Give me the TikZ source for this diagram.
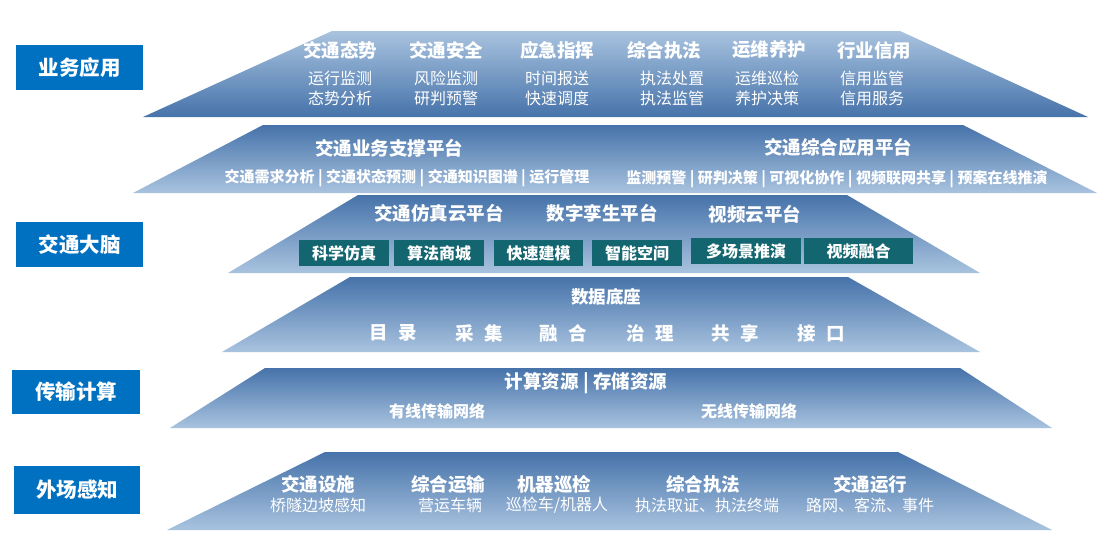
\documentclass[tikz,border=0pt]{standalone}
\usepackage{fontspec}
\setmainfont{Noto Sans CJK SC}
\definecolor{lblue}{HTML}{0070C0}
\definecolor{dkb}{HTML}{4673AA}
\definecolor{ltb}{HTML}{A9C3DF}
\definecolor{tealbox}{HTML}{13656F}
\begin{document}
\begin{tikzpicture}[x=1pt,y=-1pt,
  upL/.style={top color=ltb,bottom color=dkb},
  dnL/.style={top color=dkb,bottom color=ltb},
  tit/.style={text=white,inner sep=0pt,font=\fontsize{18.5}{18.5}\selectfont\bfseries},
  sub/.style={text=white,inner sep=0pt,font=\fontsize{16}{16}\selectfont},
  subb/.style={text=white,inner sep=0pt,font=\fontsize{15}{15}\selectfont\bfseries},
  sideb/.style={fill=lblue,text=white,inner sep=0pt,minimum width=127pt,minimum height=45pt,font=\fontsize{20.5}{20.5}\selectfont\bfseries},
  tbox/.style={fill=tealbox,text=white,inner sep=0pt,minimum height=26pt,font=\fontsize{16}{16}\selectfont\bfseries}]
\useasboundingbox (0,0) rectangle (1113,546);
\fill[white] (0,0) rectangle (1113,546);
% layers
\shade[upL] (332,31) -- (900,31) -- (1088,117) -- (143,117) -- cycle;
\shade[dnL] (263,125) -- (963,125) -- (1097,193) -- (133,193) -- cycle;
\shade[dnL] (358,195) -- (847,195) -- (980,273) -- (228,273) -- cycle;
\shade[dnL] (350,277) -- (848,277) -- (980,352) -- (222,352) -- cycle;
\shade[dnL] (265,368) -- (960,368) -- (1052,428) -- (170,428) -- cycle;
\shade[dnL] (325,452) -- (898,452) -- (1052,530) -- (167,530) -- cycle;
% side labels
\node[sideb] (s1) at (79.5,67.5) {业务应用};
\node[sideb] (s2) at (79.5,244.5) {交通大脑};
\node[sideb,minimum width=128pt,minimum height=44pt] (s3) at (76,392) {传输计算};
\node[sideb,minimum width=126pt,minimum height=48pt] (s4) at (77,490) {外场感知};
% layer 1
\node[tit] (a1) at (340,50) {交通态势};
\node[sub] (a1a) at (340,78) {运行监测};
\node[sub] (a1b) at (340,98) {态势分析};
\node[tit] (a2) at (446,50) {交通安全};
\node[sub] (a2a) at (446,78) {风险监测};
\node[sub] (a2b) at (446,98) {研判预警};
\node[tit] (a3) at (557,50) {应急指挥};
\node[sub] (a3a) at (557,78) {时间报送};
\node[sub] (a3b) at (557,98) {快速调度};
\node[tit] (a4) at (664,50) {综合执法};
\node[sub] (a4a) at (672,78) {执法处置};
\node[sub] (a4b) at (672,98) {执法监管};
\node[tit] (a5) at (769,50) {运维养护};
\node[sub] (a5a) at (767,78) {运维巡检};
\node[sub] (a5b) at (767,98) {养护决策};
\node[tit] (a6) at (874,50) {行业信用};
\node[sub] (a6a) at (872,78) {信用监管};
\node[sub] (a6b) at (872,98) {信用服务};
% layer 2
\node[tit] (b1) at (389,148) {交通业务支撑平台};
\node[subb] (b1a) at (407,178) {交通需求分析 | 交通状态预测 | 交通知识图谱 | 运行管理};
\node[tit] (b2) at (838,147) {交通综合应用平台};
\node[subb] (b2a) at (837,179) {监测预警 | 研判决策 | 可视化协作 | 视频联网共享 | 预案在线推演};
% layer 3
\node[tit] (c1) at (439,213) {交通仿真云平台};
\node[tit] (c2) at (602,213) {数字孪生平台};
\node[tit] (c3) at (755,214) {视频云平台};
\node[tbox,minimum width=90pt] (d1) at (344,253) {科学仿真};
\node[tbox,minimum width=90pt] (d2) at (439,253) {算法商城};
\node[tbox,minimum width=89pt] (d3) at (538.5,253) {快速建模};
\node[tbox,minimum width=90pt] (d4) at (637,253) {智能空间};
\node[tbox,minimum width=110pt] (d5) at (746,251) {多场景推演};
\node[tbox,minimum width=109pt] (d6) at (858.5,251) {视频融合};
% layer 4
\node[tit,font=\fontsize{17.5}{17.5}\selectfont\bfseries] (e0) at (606,297) {数据底座};
\node[tit] (e1) at (393,333) {目\hspace{11pt}录};
\node[tit] (e2) at (479,333) {采\hspace{11pt}集};
\node[tit] (e3) at (563,333) {融\hspace{11pt}合};
\node[tit] (e4) at (650,333) {治\hspace{11pt}理};
\node[tit] (e5) at (735,333) {共\hspace{11pt}享};
\node[tit] (e6) at (821,333) {接\hspace{11pt}口};
% layer 5
\node[tit] (f0) at (586,383) {计算资源 | 存储资源};
\node[tit,font=\fontsize{16}{16}\selectfont\bfseries] (f1) at (437,411) {有线传输网络};
\node[tit,font=\fontsize{16}{16}\selectfont\bfseries] (f2) at (749,411) {无线传输网络};
% layer 6
\node[tit] (g1) at (318,484) {交通设施};
\node[sub] (g1a) at (318,505) {桥隧边坡感知};
\node[tit] (g2) at (448,484) {综合运输};
\node[sub] (g2a) at (450,505) {营运车辆};
\node[tit] (g3) at (554,484) {机器巡检};
\node[sub] (g3a) at (557,505) {巡检车/机器人};
\node[tit] (g4) at (703,484) {综合执法};
\node[sub] (g4a) at (707,505) {执法取证、执法终端};
\node[tit] (g5) at (870,484) {交通运行};
\node[sub] (g5a) at (870,505) {路网、客流、事件};
\end{tikzpicture}
\end{document}
